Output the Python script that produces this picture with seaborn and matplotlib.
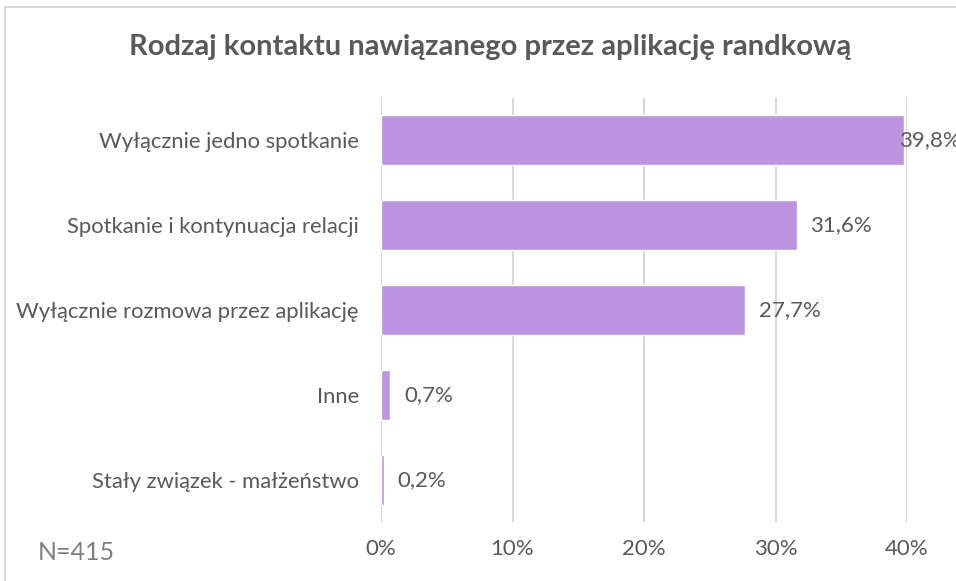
import matplotlib
matplotlib.use("Agg")
import matplotlib.pyplot as plt
import seaborn as sns
import pandas as pd
from matplotlib.patches import Rectangle

categories = [
    "Wyłącznie jedno spotkanie",
    "Spotkanie i kontynuacja relacji",
    "Wyłącznie rozmowa przez aplikację",
    "Inne",
    "Stały związek - małżeństwo",
]
values = [39.8, 31.6, 27.7, 0.7, 0.2]
value_labels = ["39,8%", "31,6%", "27,7%", "0,7%", "0,2%"]
tick_values = [0, 10, 20, 30, 40]
tick_labels = ["0%", "10%", "20%", "30%", "40%"]
title = "Rodzaj kontaktu nawiązanego przez aplikację randkową"
note = "N=415"

sns.set_theme(style="white")
plt.rcParams['font.family'] = ['Lato', 'DejaVu Sans']

df = pd.DataFrame({"cat": categories, "val": values})

fig = plt.figure(figsize=(9.56, 5.81), dpi=100)
ax = fig.add_axes([381/956, 1-522/581, (907-381)/956, (522-98)/581])

sns.barplot(data=df, x="val", y="cat", color="#BD94E0", saturation=1,
            width=0.59, ax=ax, zorder=3)

ax.set_xlim(0, 40)
ax.set_xticks(tick_values)
ax.set_xticklabels(tick_labels)
ax.set_xlabel("")
ax.set_ylabel("")
for s in ax.spines.values():
    s.set_visible(False)
ax.grid(axis="x", color="#D9D9D9", linewidth=1.5, zorder=0)
ax.grid(axis="y", visible=False)
ax.tick_params(axis="x", length=0, pad=12, labelsize=16, labelcolor="#595959")
ax.tick_params(axis="y", length=0, pad=16, labelsize=15.8, labelcolor="#595959")

for i, (v, lab) in enumerate(zip(values, value_labels)):
    dx = -4 if v > 38 else 10
    ax.annotate(lab, xy=(v, i), xytext=(dx, 0), textcoords="offset points",
                ha="left", va="center", fontsize=16, color="#595959",
                annotation_clip=False, zorder=4)

fig.text(490/956, 1-47/581, title, ha="center", va="center", fontsize=21,
         fontweight="bold", color="#595959")
fig.text(38/956, 1-553/581, note, ha="left", va="center", fontsize=18,
         color="#7F7F7F")

# outer chart border (partially visible)
fig.patches.append(Rectangle((5/956, -0.05), 1.2, 1-7/581+0.05, transform=fig.transFigure,
                             fill=False, edgecolor="#D9D9D9", linewidth=1.5, zorder=0))

fig.savefig("out.png", dpi=100)
